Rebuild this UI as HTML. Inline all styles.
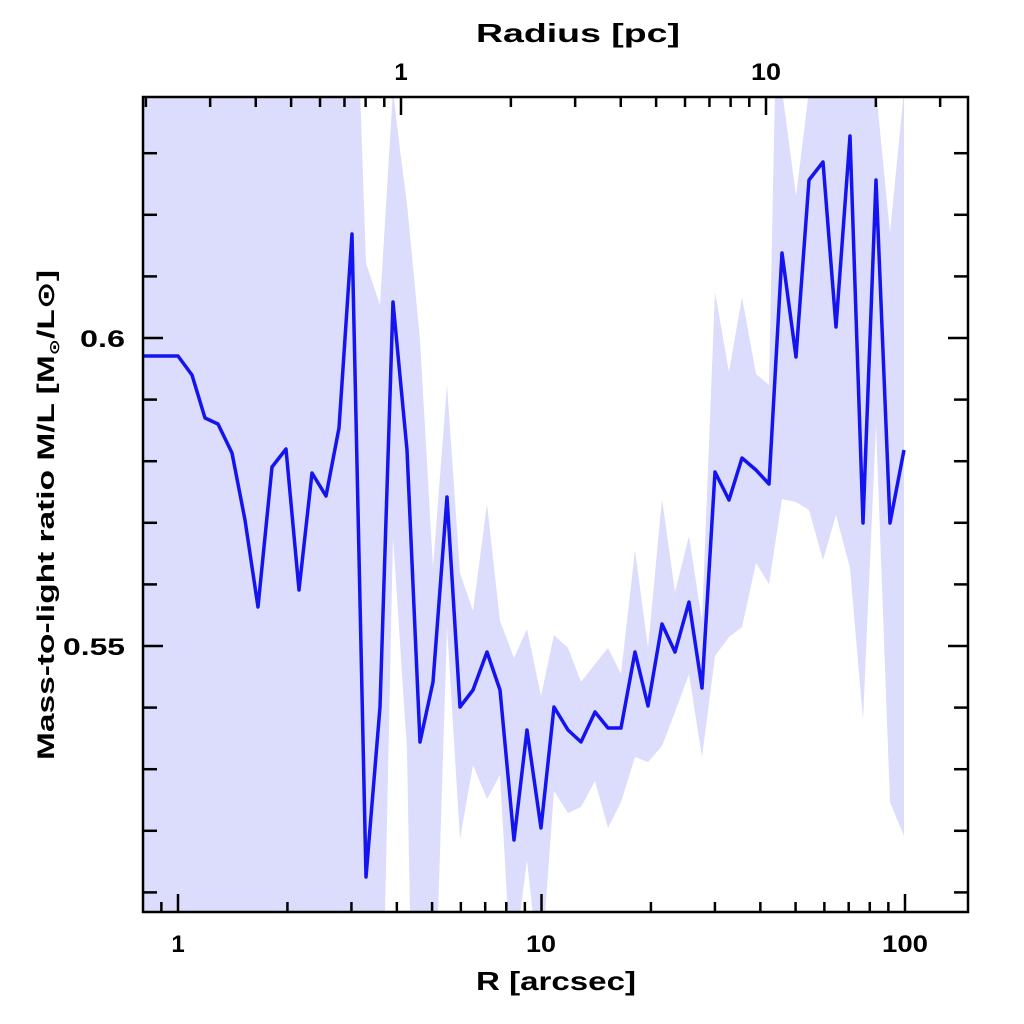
<!DOCTYPE html>
<html><head><meta charset="utf-8"><style>
html,body{margin:0;padding:0;background:#fff;}
svg{display:block;}
text{font-family:"Liberation Sans","DejaVu Sans",sans-serif;font-weight:bold;fill:#000;}
</style></head><body>
<svg id="s" width="1024" height="1024" viewBox="0 0 1024 1024" xmlns="http://www.w3.org/2000/svg">
<defs><clipPath id="c"><rect x="143" y="97" width="825" height="815"/></clipPath></defs>
<g clip-path="url(#c)">
<polygon id="band" fill="#dcdcfc" points=""/>
<polyline id="line" fill="none" stroke="#1414f0" stroke-width="3.5" stroke-linejoin="round" points=""/>
</g>
<rect x="143" y="97" width="825" height="815" fill="none" stroke="#000" stroke-width="2.5"/>
<g id="ticks" stroke="#000" stroke-width="2.5"></g>
<text x="178" y="952" font-size="24" text-anchor="middle">1</text>
<text x="541" y="952" font-size="24" text-anchor="middle" textLength="30" lengthAdjust="spacingAndGlyphs">10</text>
<text x="905" y="952" font-size="24" text-anchor="middle" textLength="46" lengthAdjust="spacingAndGlyphs">100</text>
<text x="476" y="990" font-size="26" textLength="160" lengthAdjust="spacingAndGlyphs">R [arcsec]</text>
<text x="401" y="80" font-size="24" text-anchor="middle">1</text>
<text x="766" y="80" font-size="24" text-anchor="middle" textLength="30" lengthAdjust="spacingAndGlyphs">10</text>
<text x="476" y="42" font-size="26" textLength="204" lengthAdjust="spacingAndGlyphs">Radius [pc]</text>
<text x="80" y="347" font-size="24" textLength="45" lengthAdjust="spacingAndGlyphs">0.6</text>
<text x="63" y="655" font-size="24" textLength="62" lengthAdjust="spacingAndGlyphs">0.55</text>
<text transform="translate(54,760) rotate(-90)" font-size="24" textLength="490" lengthAdjust="spacingAndGlyphs">Mass-to-light ratio M/L [M<tspan font-size="14" dy="5">⊙</tspan><tspan dy="-5">/L⊙]</tspan></text>
</svg>
<script>
var line=[[143,356],[178,356],[192,375],[205,418],[218,424],[232,453],[245,520],[258,607],[272,467],[286,449],[299,590],[312,473],[326,496],[339,428],[352,234],[366,877],[380,707],[393,302],[407,450],[420,742],[433,682],[447,497],[460,707],[473,690],[487,652],[500,690],[514,840],[527,730],[541,828],[554,707],[568,730],[581,742],[595,712],[608,728],[621,728],[635,652],[648,706],[662,624],[675,652],[689,602],[702,688],[715,472],[729,500],[742,458],[756,470],[769,484],[782,253],[796,357],[809,180],[823,162],[836,327],[850,136],[863,523],[876,180],[890,523],[904,450]];
var up=[[140,90],[360,90],[366,263],[380,305],[393,90],[400,150],[407,204],[420,340],[433,568],[447,385],[460,573],[473,611],[487,504],[500,621],[514,658],[527,629],[541,696],[554,635],[568,648],[581,682],[595,664],[608,648],[621,674],[635,550],[648,648],[662,499],[675,592],[689,536],[702,621],[715,292],[729,372],[742,297],[756,374],[769,385],[775,90],[782,90],[796,196],[809,90],[876,90],[890,233],[904,90]];
var lo=[[904,836],[890,802],[876,425],[863,720],[850,568],[836,515],[823,560],[809,510],[796,502],[782,499],[769,584],[756,563],[742,627],[729,637],[715,656],[702,757],[689,674],[675,712],[662,746],[648,762],[635,757],[621,802],[608,828],[595,781],[581,807],[568,813],[554,791],[545,915],[533,915],[527,860],[520,915],[508,915],[500,775],[487,799],[473,765],[460,839],[447,627],[438,915],[410,915],[407,750],[393,536],[385,915],[140,915]];
function pts(a){return a.map(function(p){return p[0]+","+p[1]}).join(" ");}
document.getElementById("line").setAttribute("points",pts(line));
document.getElementById("band").setAttribute("points",pts(up.concat(lo)));
var g=document.getElementById("ticks"),h="";
function L(x1,y1,x2,y2){h+='<line x1="'+x1+'" y1="'+y1+'" x2="'+x2+'" y2="'+y2+'"/>';}
for(var d=-1;d<=2;d++)for(var k=1;k<10;k++){var v=Math.log10(k)+d;var x=178+363.5*v;if(x<144||x>967)continue;var len=k==1?18:10;L(x,912,x,912-len);}
for(var d=-1;d<=1;d++)for(var k=1;k<10;k++){var v=Math.log10(k)+d;var x=401+365*v;if(x<144||x>967)continue;var len=k==1?18:10;L(x,97,x,97+len);}
for(var i=-10;i<=10;i++){var y=338+61.6*i;if(y<99||y>910)continue;var len=(i%5==0)?20:14;L(143,y,143+len,y);L(968,y,968-len,y);}
g.innerHTML=h;
</script>
</body></html>
